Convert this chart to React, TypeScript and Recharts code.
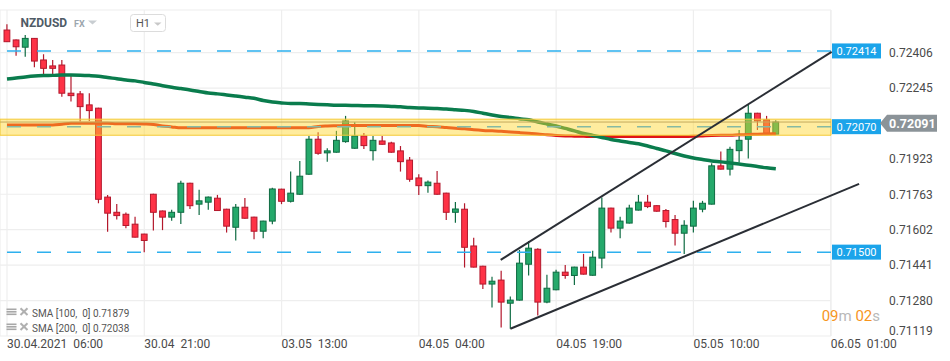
import React from 'react';
import {
  ComposedChart,
  Bar,
  Line,
  XAxis,
  YAxis,
  CartesianGrid,
  ReferenceLine,
  ReferenceArea,
} from 'recharts';

// ---------- data ----------
const opens = [
  0.72509, 0.72464, 0.72431, 0.72471, 0.72373, 0.72346, 0.7235, 0.72222, 0.72219, 0.72169,
  0.72154, 0.7175, 0.71681, 0.71672, 0.71627, 0.71582, 0.71763, 0.71687, 0.71659, 0.71681,
  0.71813, 0.71718, 0.71727, 0.71745, 0.71695, 0.71613, 0.71704, 0.71659, 0.71595, 0.71641,
  0.71786, 0.71731, 0.71763, 0.71854, 0.72013, 0.71951, 0.71954, 0.72002, 0.71972, 0.72028,
  0.71961, 0.72005, 0.71996, 0.7196, 0.71918, 0.71837, 0.71802, 0.71813, 0.71768, 0.71681,
  0.71695, 0.71528, 0.71436, 0.71355, 0.71373, 0.71268, 0.71282, 0.71445, 0.71513, 0.71273,
  0.71329, 0.71409, 0.71394, 0.71432, 0.71395, 0.71473, 0.717, 0.71609, 0.71632, 0.71691,
  0.71727, 0.71711, 0.71689, 0.71648, 0.71586, 0.71618, 0.71695, 0.71718, 0.71892, 0.71877,
  0.71961, 0.72013, 0.72131, 0.72101, 0.72036,
];
const highs = [
  0.72535, 0.72466, 0.72486, 0.72473, 0.72399, 0.72373, 0.72373, 0.72308, 0.72232, 0.72222,
  0.72156, 0.7176, 0.71719, 0.7168, 0.71661, 0.71584, 0.71765, 0.71689, 0.71692, 0.71824,
  0.71815, 0.71783, 0.71753, 0.7176, 0.71697, 0.71719, 0.71746, 0.71661, 0.71643, 0.71793,
  0.71788, 0.71866, 0.71914, 0.72028, 0.72045, 0.71972, 0.72051, 0.72119, 0.7209, 0.72041,
  0.72028, 0.72028, 0.72002, 0.71982, 0.71932, 0.71854, 0.71825, 0.71869, 0.7177, 0.71728,
  0.71722, 0.71565, 0.71438, 0.71388, 0.71415, 0.71298, 0.7151, 0.71551, 0.71518, 0.71397,
  0.7142, 0.71442, 0.71434, 0.71492, 0.71506, 0.71748, 0.71702, 0.71661, 0.71715, 0.7176,
  0.7176, 0.71713, 0.71696, 0.71669, 0.71645, 0.71733, 0.71733, 0.71904, 0.71957, 0.71979,
  0.72055, 0.72169, 0.72133, 0.72119, 0.72099,
];
const lows = [
  0.72455, 0.72392, 0.72388, 0.7234, 0.723, 0.72305, 0.72206, 0.72184, 0.72093, 0.72096,
  0.71722, 0.71593, 0.71648, 0.71609, 0.71566, 0.715, 0.71598, 0.716, 0.71643, 0.71628,
  0.71696, 0.71669, 0.71692, 0.71687, 0.71589, 0.71553, 0.71652, 0.71559, 0.71563, 0.71627,
  0.71718, 0.71725, 0.71761, 0.71852, 0.71942, 0.71911, 0.71952, 0.71997, 0.7197, 0.71969,
  0.71916, 0.71988, 0.71952, 0.71866, 0.7182, 0.7176, 0.7177, 0.71761, 0.71646, 0.71634,
  0.7143, 0.7143, 0.71333, 0.71248, 0.71158, 0.71152, 0.7128, 0.71394, 0.71212, 0.71268,
  0.71327, 0.71379, 0.71351, 0.71398, 0.71393, 0.71427, 0.71589, 0.71563, 0.7163, 0.71689,
  0.717, 0.71684, 0.71612, 0.7153, 0.71491, 0.71589, 0.71681, 0.71716, 0.71875, 0.71848,
  0.71907, 0.71925, 0.72055, 0.72038, 0.72034,
];
const closes = [
  0.72456, 0.72433, 0.72471, 0.72368, 0.72335, 0.72335, 0.72222, 0.72211, 0.72161, 0.72143,
  0.7174, 0.71677, 0.71666, 0.71621, 0.71568, 0.71553, 0.71681, 0.71659, 0.71681, 0.71813,
  0.71711, 0.71733, 0.7175, 0.71689, 0.71618, 0.71704, 0.71654, 0.71595, 0.71641, 0.71787,
  0.71731, 0.71768, 0.71845, 0.72013, 0.71949, 0.7196, 0.72008, 0.72096, 0.72028, 0.71984,
  0.72008, 0.7199, 0.71954, 0.71911, 0.71831, 0.71802, 0.71818, 0.71763, 0.71681, 0.71696,
  0.71522, 0.71432, 0.71355, 0.71368, 0.71273, 0.71282, 0.7145, 0.71518, 0.71273, 0.71336,
  0.71409, 0.71394, 0.71432, 0.714, 0.71477, 0.717, 0.71609, 0.71641, 0.717, 0.71727,
  0.71707, 0.71686, 0.71639, 0.71586, 0.71622, 0.717, 0.71722, 0.71892, 0.71877, 0.71967,
  0.72008, 0.72131, 0.72096, 0.7204, 0.72091,
];
const sma100 = [
  0.72287, 0.72291, 0.72296, 0.723, 0.72302, 0.72303, 0.72305, 0.72305, 0.72304, 0.72302,
  0.72299, 0.72293, 0.72288, 0.72282, 0.72278, 0.72271, 0.72264, 0.72256, 0.72249, 0.72243,
  0.72237, 0.7223, 0.72223, 0.72219, 0.72214, 0.72209, 0.72204, 0.72199, 0.72189, 0.72182,
  0.72178, 0.72175, 0.72175, 0.72173, 0.72171, 0.72169, 0.72167, 0.72167, 0.72166, 0.72165,
  0.72165, 0.72164, 0.72162, 0.7216, 0.72157, 0.72155, 0.72154, 0.72152, 0.7215, 0.72147,
  0.72144, 0.72139, 0.72131, 0.72123, 0.72116, 0.72112, 0.72106, 0.72101, 0.72091, 0.72082,
  0.72073, 0.72062, 0.72051, 0.72039, 0.7203, 0.72021, 0.72012, 0.72005, 0.71998, 0.71992,
  0.71982, 0.71971, 0.7196, 0.71948, 0.71937, 0.71928, 0.71921, 0.71914, 0.7191, 0.71905,
  0.719, 0.71895, 0.71889, 0.71883, 0.71879,
];
const sma200 = [
  0.72078, 0.72078, 0.72078, 0.72078, 0.72078, 0.72078, 0.72081, 0.72085, 0.72085, 0.72085,
  0.72085, 0.72085, 0.72083, 0.72083, 0.72083, 0.72082, 0.7208, 0.72073, 0.72069, 0.72065,
  0.72065, 0.72065, 0.72065, 0.72065, 0.72065, 0.72065, 0.72065, 0.72065, 0.72065, 0.72065,
  0.72065, 0.72065, 0.72065, 0.72065, 0.72071, 0.72073, 0.72074, 0.72075, 0.72075, 0.72075,
  0.72075, 0.72075, 0.72075, 0.72075, 0.72075, 0.72075, 0.72071, 0.7207, 0.72066, 0.72063,
  0.7206, 0.72056, 0.72053, 0.72051, 0.72049, 0.72046, 0.72043, 0.7204, 0.72037, 0.72033,
  0.7203, 0.72028, 0.72027, 0.72026, 0.72025, 0.72025, 0.72025, 0.72025, 0.72025, 0.72025,
  0.72025, 0.72025, 0.72025, 0.72025, 0.72025, 0.72026, 0.72028, 0.7203, 0.72031, 0.72031,
  0.72033, 0.72034, 0.72036, 0.72037, 0.72038,
];

const xTickIndex = [0, 15, 30, 45, 60, 75, 90];
const xTickLabels = [
  '30.04.2021  06:00',
  '30.04  21:00',
  '03.05  13:00',
  '04.05  04:00',
  '04.05  19:00',
  '05.05  10:00',
  '06.05  01:00',
];
const yTicks = [0.72406, 0.72245, 0.71923, 0.71763, 0.71602, 0.71441, 0.7128, 0.71119];
const blueLevels = [0.72414, 0.715];
const zoneMid = 0.7207;
const zoneLow = 0.72031;
const zoneHigh = 0.72104;
const currentPrice = 0.72091;
const upperTrend = [
  { x: 53.94, y: 0.71465 },
  { x: 90.1, y: 0.7241 },
];
const lowerTrend = [
  { x: 55.0, y: 0.71152 },
  { x: 93.1, y: 0.7181 },
];
const legendRows = ['SMA [100,  0] 0.71879', 'SMA [200,  0] 0.72038'];
const symbol = 'NZDUSD';
const market = 'FX';
const interval = 'H1';

const data = opens.map((o, i) => ({
  i,
  open: o,
  high: highs[i],
  low: lows[i],
  close: closes[i],
  range: [lows[i], highs[i]],
  sma100: sma100[i],
  sma200: sma200[i],
}));

const FONT = 'Roboto, "Noto Sans", sans-serif';

// ---------- shapes ----------
const Candle = (props: any) => {
  const { x, y, width, height, payload } = props;
  if (x == null || !payload) return null;
  const cx = x + width / 2;
  const top = Math.min(y, y + height);
  const h = Math.abs(height);
  const { open, close, high, low } = payload;
  const k = high - low > 0 ? h / (high - low) : 0;
  const py = (v: number) => top + (high - v) * k;
  const up = close >= open;
  const fill = up ? '#25a96b' : '#fe3246';
  const stroke = up ? '#0e6b42' : '#b3182c';
  const bt = py(Math.max(open, close));
  const bb = py(Math.min(open, close));
  return (
    <g>
      <line x1={cx} x2={cx} y1={top} y2={top + h} stroke={stroke} strokeWidth={1.2} />
      <rect
        x={cx - 2.9}
        y={bt}
        width={5.8}
        height={Math.max(bb - bt, 1)}
        fill={fill}
        stroke={stroke}
        strokeWidth={1}
      />
    </g>
  );
};

const PriceTag = (props: any) => {
  const { viewBox, text } = props;
  if (!viewBox) return null;
  const x0 = viewBox.x + viewBox.width + 1;
  const y0 = viewBox.y;
  return (
    <g>
      <rect x={x0} y={y0 - 7.5} width={49} height={15} fill="#1ba4ea" />
      <text
        x={x0 + 24.5}
        y={y0 + 4}
        textAnchor="middle"
        fontSize={11}
        fill="#ffffff"
        fontFamily={FONT}
      >
        {text}
      </text>
    </g>
  );
};

const CurrentTag = (props: any) => {
  const { viewBox, text } = props;
  if (!viewBox) return null;
  const x0 = viewBox.x + viewBox.width + 49;
  const y0 = viewBox.y + 1.3;
  const pts = `${x0},${y0} ${x0 + 7},${y0 - 8.5} ${x0 + 57},${y0 - 8.5} ${x0 + 57},${y0 + 8.5} ${x0 + 7},${y0 + 8.5}`;
  return (
    <g>
      <polygon points={pts} fill="#8b9398" />
      <text
        x={x0 + 9}
        y={y0 + 4.5}
        fontSize={12.5}
        fontWeight="bold"
        fill="#ffffff"
        fontFamily={FONT}
      >
        {text}
      </text>
    </g>
  );
};

const YTick = (props: any) => {
  const { x, y, payload } = props;
  const yy = y > 333 ? y - 5 : y;
  return (
    <text x={x} y={yy} dy={4.3} textAnchor="start" fontSize={12} fill="#4a4a4a" fontFamily={FONT}>
      {Number(payload.value).toFixed(5)}
    </text>
  );
};

const XTick = (props: any) => {
  const { x, y, payload } = props;
  const idx = xTickIndex.indexOf(payload.value);
  return (
    <text
      x={x}
      y={y}
      dy={11.5}
      textAnchor="start"
      fontSize={12}
      fill="#4a4a4a"
      fontFamily={FONT}
      style={{ whiteSpace: 'pre' }}
    >
      {xTickLabels[idx]}
    </text>
  );
};

const Overlay = () => (
  <svg
    width={950}
    height={361}
    style={{ position: 'absolute', left: 0, top: 0, pointerEvents: 'none' }}
  >
    <text x={20.5} y={27.3} fontSize={12} fontWeight="bold" fill="#4f5b66" fontFamily={FONT}>
      {symbol}
    </text>
    <text x={74} y={26.8} fontSize={9} fontWeight="bold" fill="#9ca6ae" fontFamily={FONT}>
      {market}
    </text>
    <polygon points="88,20.5 97,20.5 92.5,24.5" fill="#c8cdd1" />
    <rect x={130.5} y={14.5} width={35} height={17} rx={3} fill="#ffffff" stroke="#dcdcdc" />
    <text x={136} y={27} fontSize={11} fill="#555555" fontFamily={FONT}>
      {interval}
    </text>
    <polygon points="154,22.5 161.5,22.5 157.75,25.8" fill="#c8c8c8" />
    {legendRows.map((t, k) => {
      const by = 316.5 + k * 15;
      return (
        <g key={t}>
          <rect x={6.5} y={by - 8} width={10} height={1.6} fill="#a8a8a8" />
          <rect x={6.5} y={by - 5.5} width={10} height={1.6} fill="#a8a8a8" />
          <rect x={6.5} y={by - 3} width={10} height={1.6} fill="#a8a8a8" />
          <line x1={20.5} y1={by - 8.2} x2={27.5} y2={by - 1.5} stroke="#b0b0b0" strokeWidth={2} />
          <line x1={27.5} y1={by - 8.2} x2={20.5} y2={by - 1.5} stroke="#b0b0b0" strokeWidth={2} />
          <text
            x={32}
            y={by}
            fontSize={10}
            fill="#555555"
            fontFamily={FONT}
            style={{ whiteSpace: 'pre' }}
          >
            {t}
          </text>
        </g>
      );
    })}
    <text x={880} y={321} textAnchor="end" fontSize={15} fontFamily={FONT} style={{ whiteSpace: 'pre' }}>
      <tspan fill="#f7951d">09</tspan>
      <tspan fill="#b8b8b8">m </tspan>
      <tspan fill="#f7951d">02</tspan>
      <tspan fill="#b8b8b8">s</tspan>
    </text>
  </svg>
);

export default function App() {
  return (
    <div style={{ position: 'absolute', left: 0, top: 0, width: 950, height: 361, background: '#ffffff' }}>
      <ComposedChart
        width={950}
        height={361}
        data={data}
        margin={{ top: 10, right: 0, bottom: 0, left: 0 }}
        style={{ fontFamily: FONT }}
      >
        <CartesianGrid stroke="#eeeeee" strokeWidth={1.2} />
        <XAxis
          dataKey="i"
          type="number"
          domain={[-0.765, 90.03]}
          allowDataOverflow
          ticks={xTickIndex}
          interval={0}
          tick={<XTick />}
          tickSize={0}
          tickMargin={0}
          axisLine={false}
          tickLine={false}
          height={25}
        />
        <YAxis
          orientation="right"
          type="number"
          domain={[0.71119, 0.726]}
          allowDataOverflow
          ticks={yTicks}
          interval={0}
          tick={<YTick />}
          tickSize={0}
          tickMargin={58}
          axisLine={false}
          tickLine={false}
          width={119}
        />
        {blueLevels.map((v) => (
          <ReferenceLine
            key={v}
            y={v}
            stroke="#2db0ee"
            strokeWidth={1.5}
            strokeDasharray="14 16"
            label={<PriceTag text={v.toFixed(5)} />}
          />
        ))}
        <Bar dataKey="range" barSize={7} isAnimationActive={false} shape={(p: any) => <Candle {...p} />} />
        <Line
          dataKey="sma200"
          type="monotone"
          stroke="#e0141a"
          strokeWidth={3}
          dot={false}
          activeDot={false}
          isAnimationActive={false}
        />
        <Line
          dataKey="sma100"
          type="monotone"
          stroke="#0a7c4d"
          strokeWidth={3.5}
          dot={false}
          activeDot={false}
          isAnimationActive={false}
        />
        <ReferenceArea
          y1={zoneLow}
          y2={zoneHigh}
          fill="rgba(255, 212, 40, 0.45)"
          fillOpacity={1}
          stroke="#f4c935"
          strokeWidth={1}
          ifOverflow="visible"
          {...({ zIndex: 450 } as any)}
        />
        <ReferenceLine
          y={zoneMid}
          stroke="#86b9a2"
          strokeWidth={1.5}
          strokeDasharray="14 16"
          label={<PriceTag text={zoneMid.toFixed(5)} />}
          {...({ zIndex: 460 } as any)}
        />
        <ReferenceLine
          y={currentPrice}
          stroke="#c4aa5c"
          strokeWidth={1}
          label={<CurrentTag text={currentPrice.toFixed(5)} />}
          {...({ zIndex: 460 } as any)}
        />
        <ReferenceLine
          segment={upperTrend}
          stroke="#2a2e35"
          strokeWidth={2}
          ifOverflow="visible"
          {...({ zIndex: 470 } as any)}
        />
        <ReferenceLine
          segment={lowerTrend}
          stroke="#2a2e35"
          strokeWidth={2}
          ifOverflow="visible"
          {...({ zIndex: 470 } as any)}
        />
      </ComposedChart>
      <Overlay />
    </div>
  );
}
